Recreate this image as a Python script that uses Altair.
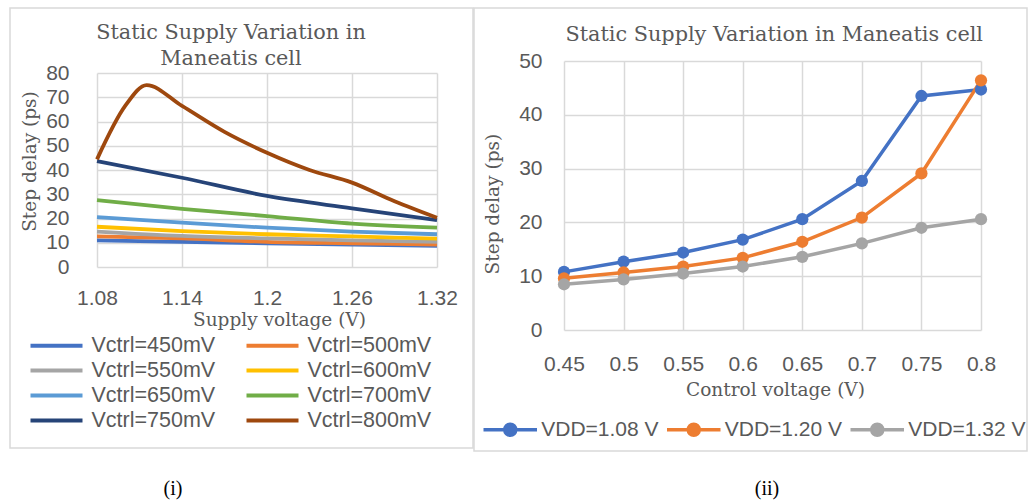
import altair as alt
import pandas as pd

# ---------------- Panel (i): step delay vs supply voltage ----------------
supply_v = [1.08, 1.14, 1.20, 1.26, 1.32]
delay_450 = [11.0, 10.4, 9.8, 9.2, 8.7]
delay_500 = [12.6, 11.8, 10.4, 9.8, 9.2]
delay_550 = [14.6, 12.8, 11.8, 11.0, 10.4]
delay_600 = [16.6, 14.8, 13.5, 12.6, 11.7]
delay_650 = [20.6, 18.3, 16.2, 14.6, 13.5]
delay_700 = [27.6, 24.0, 21.0, 17.9, 16.2]
delay_750 = [43.7, 36.8, 29.3, 24.2, 19.3]
supply_v_800 = [1.08, 1.10, 1.115, 1.14, 1.17, 1.20, 1.23, 1.26, 1.29, 1.32]
delay_800 = [44.4, 66.5, 75.0, 66.4, 55.7, 47.1, 40.0, 34.8, 27.1, 20.3]
vctrl_labels = ["Vctrl=450mV", "Vctrl=500mV", "Vctrl=550mV", "Vctrl=600mV",
                "Vctrl=650mV", "Vctrl=700mV", "Vctrl=750mV", "Vctrl=800mV"]
vctrl_colors = ["#4472C4", "#ED7D31", "#A5A5A5", "#FFC000",
                "#5B9BD5", "#70AD47", "#264478", "#9E480E"]
supply_ticks = [1.08, 1.14, 1.20, 1.26, 1.32]
delay_ticks_i = [0, 10, 20, 30, 40, 50, 60, 70, 80]

# ---------------- Panel (ii): step delay vs control voltage ----------------
control_v = [0.45, 0.50, 0.55, 0.60, 0.65, 0.70, 0.75, 0.80]
vdd_108 = [10.8, 12.7, 14.4, 16.8, 20.6, 27.7, 43.5, 44.7]
vdd_120 = [9.6, 10.7, 11.8, 13.4, 16.4, 20.9, 29.1, 46.4]
vdd_132 = [8.5, 9.4, 10.5, 11.8, 13.6, 16.1, 19.0, 20.6]
vdd_labels = ["VDD=1.08 V", "VDD=1.20 V", "VDD=1.32 V"]
vdd_colors = ["#4472C4", "#ED7D31", "#A5A5A5"]
delay_ticks_ii = [0, 10, 20, 30, 40, 50]

captions = ["(i)", "(ii)"]

# ---------------- tables ----------------
left_x = [supply_v] * 7 + [supply_v_800]
left_y = [delay_450, delay_500, delay_550, delay_600,
          delay_650, delay_700, delay_750, delay_800]
rows = []
for lab, xs, ys in zip(vctrl_labels, left_x, left_y):
    for xv, yv in zip(xs, ys):
        rows.append({"series": lab, "supply": xv, "delay": yv})
left_df = pd.DataFrame(rows)

rows = []
for lab, ys in zip(vdd_labels, [vdd_108, vdd_120, vdd_132]):
    for xv, yv in zip(control_v, ys):
        rows.append({"vdd": lab, "control": xv, "delay": yv})
right_df = pd.DataFrame(rows)

GREY = "#595959"
SERIF = "DejaVu Serif"
SANS = "Liberation Sans"

# ---------------- panel (i) ----------------
LW, LH = 463, 440
lx_scale = alt.Scale(domain=[1.08, 1.32], range=[87, 427], nice=False, zero=False)
ly_scale = alt.Scale(domain=[0, 80], range=[259, 65], nice=False)

left_lines = alt.Chart(left_df).mark_line(strokeWidth=3.8, interpolate="monotone").encode(
    x=alt.X("supply:Q", scale=lx_scale,
            axis=alt.Axis(orient="bottom", values=supply_ticks, format=".2~f", offset=-181,
                          grid=False, labelPadding=20.5, title="Supply voltage (V)",
                          titleX=269, titleY=52, titleBaseline="middle")),
    y=alt.Y("delay:Q", scale=ly_scale,
            axis=alt.Axis(orient="left", values=delay_ticks_i, offset=-87, grid=True,
                          labelPadding=28, title="Step delay (ps)", titleX=-68, titleY=153,
                          titleBaseline="middle")),
    color=alt.Color("series:N", scale=alt.Scale(domain=vctrl_labels, range=vctrl_colors),
                    legend=alt.Legend(title=None, orient="none", legendX=34.5, legendY=325.5,
                                      columns=2, direction="horizontal",
                                      symbolType="M-2.6,0H2.6", symbolSize=400,
                                      symbolStrokeWidth=4, labelFont=SANS,
                                      labelFontSize=21.5, labelColor=GREY, labelOffset=23,
                                      columnPadding=23, rowPadding=2, padding=0,
                                      labelLimit=400)),
)
left_grid = alt.Chart(left_df).mark_line(strokeOpacity=0).encode(
    x=alt.X("supply:Q", scale=lx_scale,
            axis=alt.Axis(orient="top", values=supply_ticks, grid=True, labels=False,
                          title=None)),
    y=alt.Y("delay:Q", scale=ly_scale),
)
left_caption = alt.Chart(pd.DataFrame({"t": [captions[0]]})).mark_text(
    font="Liberation Serif", fontSize=20, color="#000000", baseline="middle"
).encode(text="t:N", x=alt.value(163), y=alt.value(481))

left = alt.layer(left_lines, left_grid, left_caption).properties(
    width=LW, height=LH,
    title=alt.TitleParams(["Static Supply Variation in", "Maneatis cell"], frame="group",
                          anchor="middle", dx=-10.5, offset=-62, lineHeight=26.6),
)

# ---------------- panel (ii) ----------------
RW, RH = 553, 443
rx_scale = alt.Scale(domain=[0.45, 0.80], range=[90, 507], nice=False, zero=False)
ry_scale = alt.Scale(domain=[0, 50], range=[322, 53], nice=False)

dot_path = ("M-2.675,0H2.675"
            "M-0.55,0A0.55,0.55,0,1,1,0.55,0A0.55,0.55,0,1,1,-0.55,0"
            "M-0.22,0A0.22,0.22,0,1,1,0.22,0A0.22,0.22,0,1,1,-0.22,0")

right_lines = alt.Chart(right_df).mark_line(
    strokeWidth=3.5, point=alt.OverlayMarkDef(filled=True, size=150)
).encode(
    x=alt.X("control:Q", scale=rx_scale,
            axis=alt.Axis(orient="bottom", values=control_v, format=".2~f", offset=-121,
                          grid=False, labelPadding=23.5, title="Control voltage (V)",
                          titleX=301, titleY=59, titleBaseline="middle")),
    y=alt.Y("delay:Q", scale=ry_scale,
            axis=alt.Axis(orient="left", values=delay_ticks_ii, offset=-90, grid=True,
                          labelPadding=22, title="Step delay (ps)", titleX=-71.6,
                          titleY=195.6, titleBaseline="middle")),
    color=alt.Color("vdd:N", scale=alt.Scale(domain=vdd_labels, range=vdd_colors),
                    legend=alt.Legend(title=None, orient="none", legendX=24.25, legendY=409.5,
                                      direction="horizontal", symbolType=dot_path,
                                      symbolSize=400, symbolStrokeWidth=3.5,
                                      labelFont=SANS, labelFontSize=21,
                                      labelColor=GREY, labelOffset=19, columnPadding=0.5,
                                      padding=0, labelLimit=400)),
)
right_grid = alt.Chart(right_df).mark_line(strokeOpacity=0).encode(
    x=alt.X("control:Q", scale=rx_scale,
            axis=alt.Axis(orient="top", values=control_v, grid=True, labels=False,
                          title=None)),
    y=alt.Y("delay:Q", scale=ry_scale),
)
right_caption = alt.Chart(pd.DataFrame({"t": [captions[1]]})).mark_text(
    font="Liberation Serif", fontSize=20, color="#000000", baseline="middle"
).encode(text="t:N", x=alt.value(293), y=alt.value(481))

right = alt.layer(right_lines, right_grid, right_caption).properties(
    width=RW, height=RH,
    title=alt.TitleParams("Static Supply Variation in Maneatis cell", frame="group",
                          anchor="middle", dx=23.7, offset=-37.3),
)

chart = alt.hconcat(left, right, spacing=1, bounds="flush").resolve_scale(
    color="independent"
).properties(
    padding={"left": 9, "top": 7, "right": 0, "bottom": 0}
).configure_view(
    stroke="#D9D9D9", strokeWidth=1.5
).configure_axis(
    labelFont=SANS, labelFontSize=21, labelColor=GREY,
    titleFont=SERIF, titleFontSize=18.5, titleFontWeight="normal", titleColor=GREY,
    gridColor="#D9D9D9", gridWidth=1.5, domain=False, ticks=False,
    labelFlush=False, labelOverlap=False
).configure_title(
    font=SERIF, fontSize=20.8, fontWeight="normal", color=GREY
)

chart.save("out.html", embed_options={"renderer": "svg", "actions": False})
